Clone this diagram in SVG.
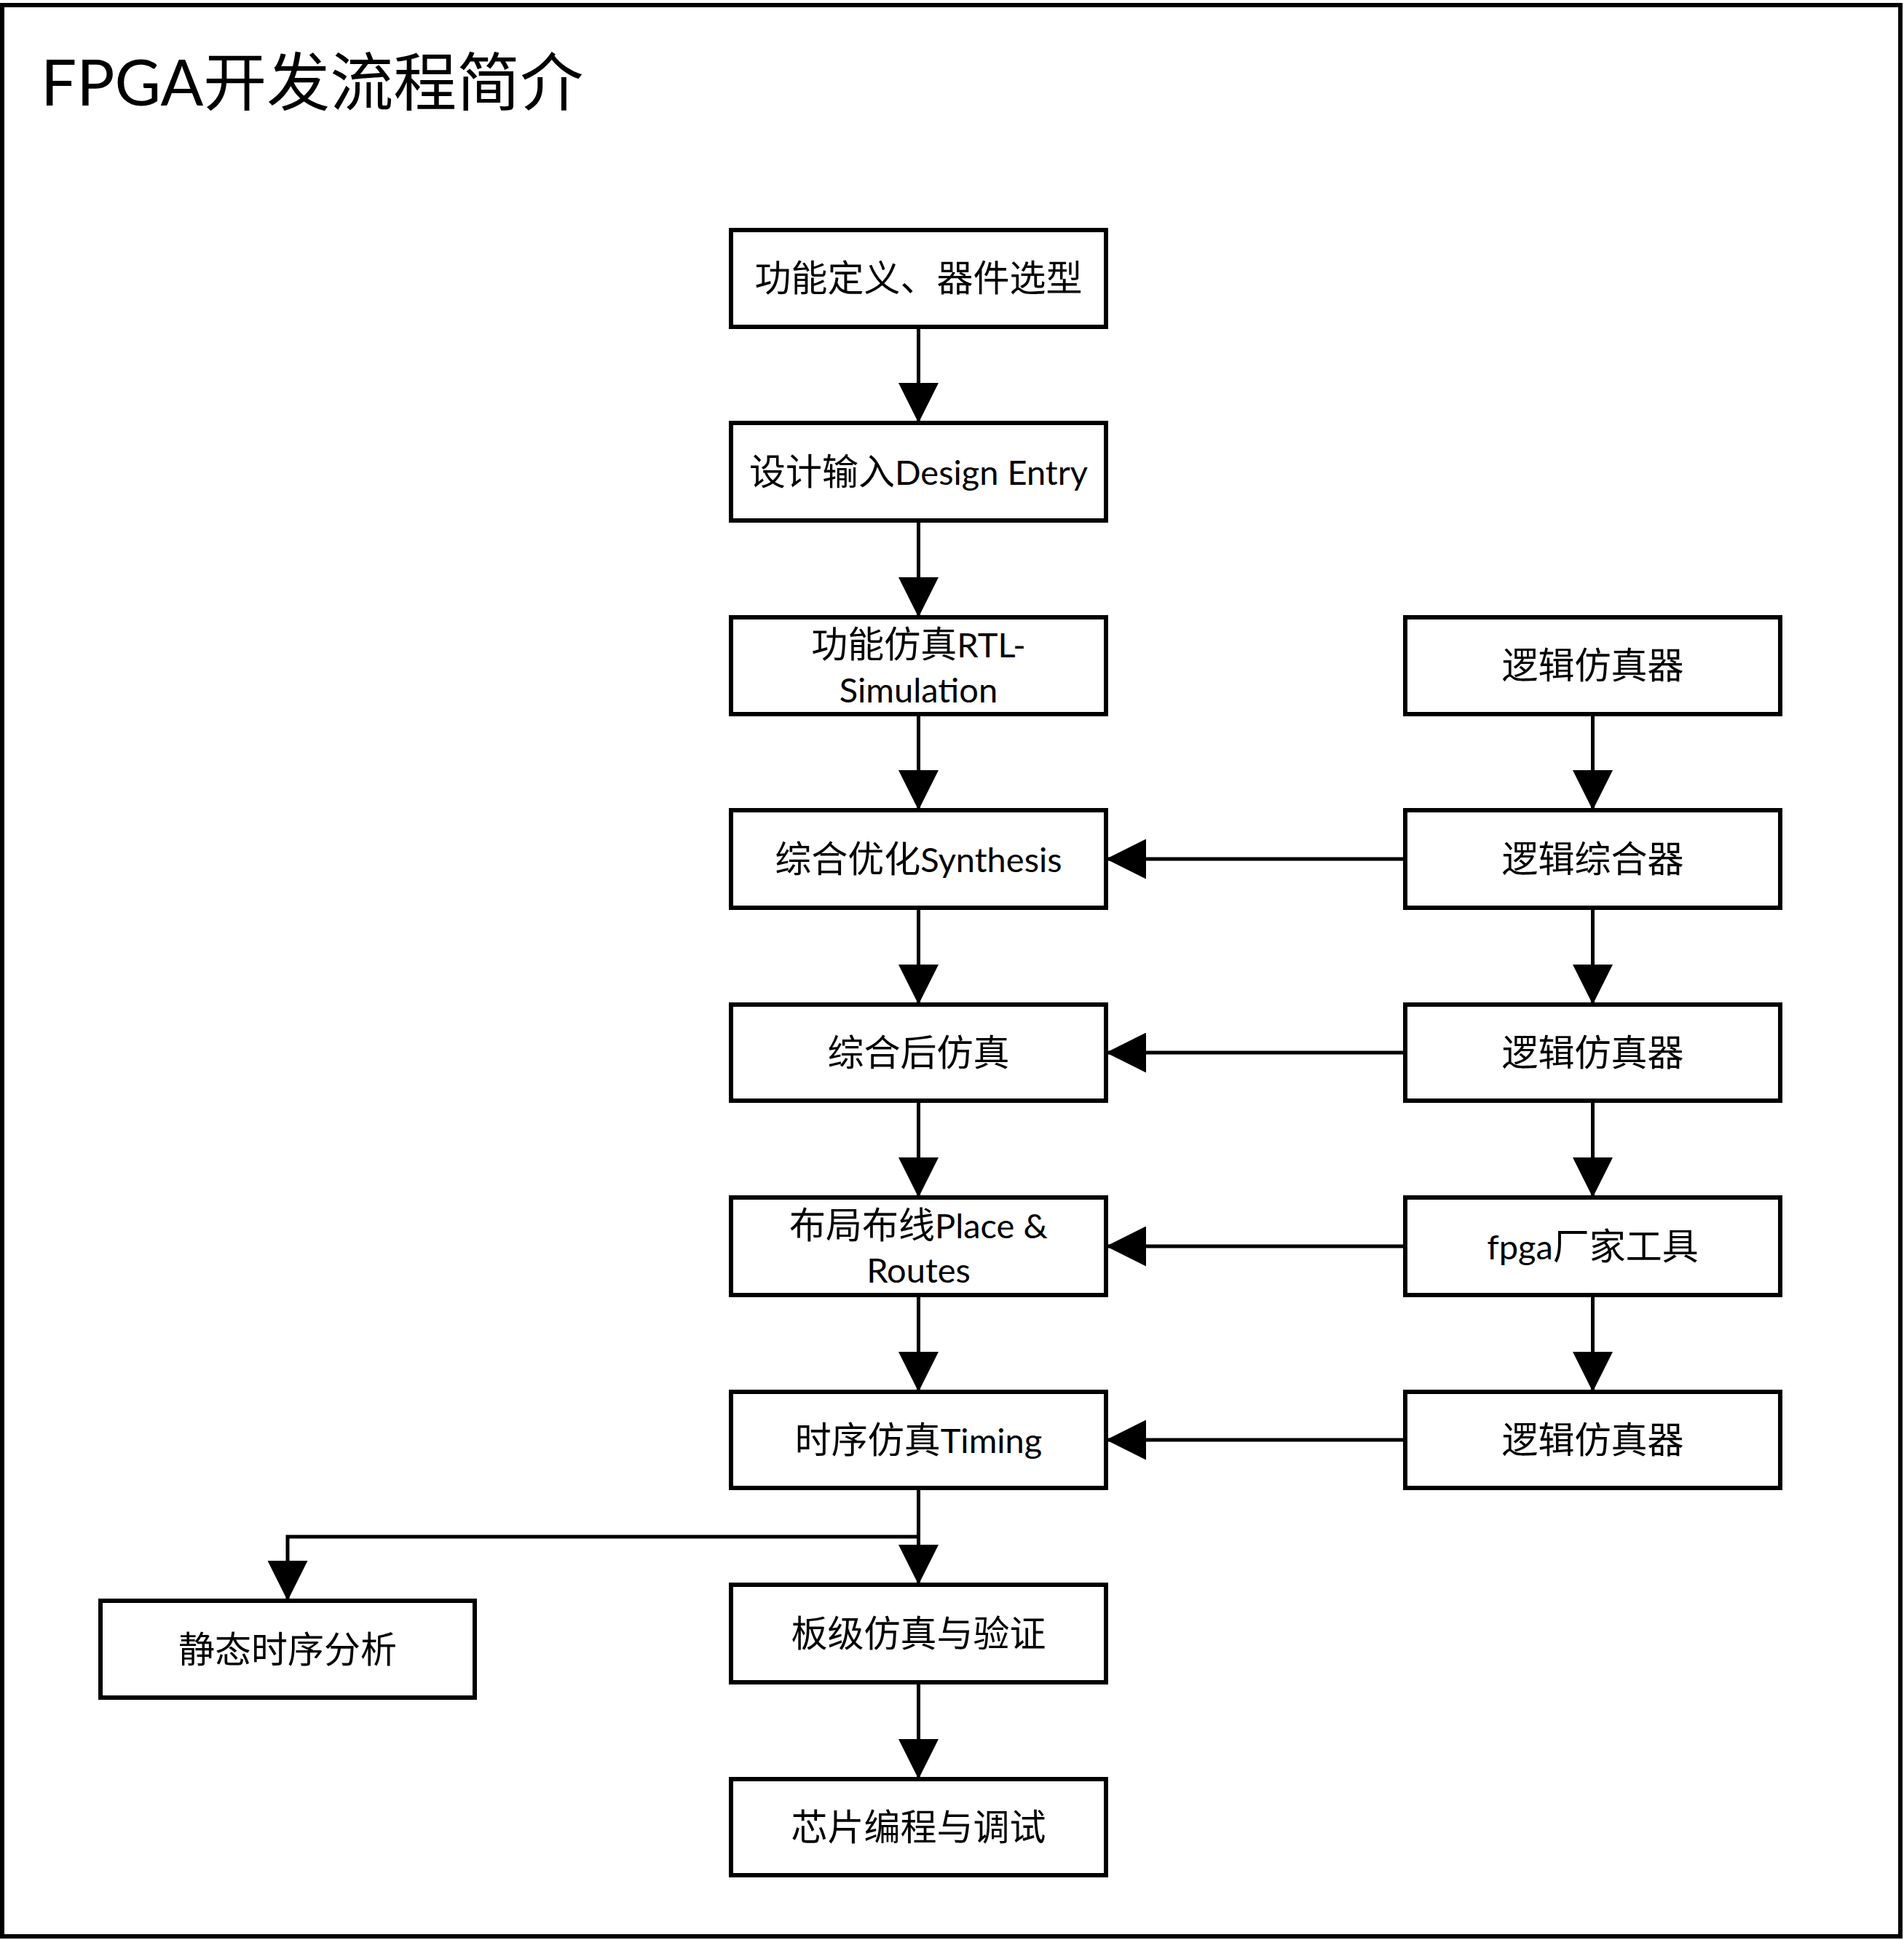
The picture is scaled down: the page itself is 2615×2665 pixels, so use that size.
<svg xmlns="http://www.w3.org/2000/svg" width="2615" height="2665" viewBox="0 0 2615 2665">
  <style>
    .frame { fill: #ffffff; stroke: #000000; stroke-width: 6; }
    .box { fill: #ffffff; stroke: #000000; stroke-width: 6; }
    .lbl { font-family: "Lato", "Noto Sans CJK SC", sans-serif; font-size: 50px; fill: #000000; text-anchor: middle; }
    .lat { font-size: 47px; }
    .title { font-family: "Lato", "Noto Sans CJK SC", sans-serif; font-size: 87px; fill: #000000; }
    .wire { fill: none; stroke: #000000; stroke-width: 5; }
  </style>
  <defs>
    <marker id="arrow" viewBox="0 0 55 55" refX="55" refY="27.5" markerWidth="55" markerHeight="55" markerUnits="userSpaceOnUse" orient="auto">
      <path d="M0,0 L55,27.5 L0,55 Z" fill="#000000"/>
    </marker>
  </defs>

  <rect class="frame" x="3" y="7" width="2607" height="2653"/>
  <text class="title" x="56" y="145">FPGA开发流程简介</text>

  <!-- main flow column -->
  <g id="n1"><rect class="box" x="1004" y="316" width="515" height="133"/><text class="lbl" x="1261.5" y="400">功能定义、器件选型</text></g>
  <g id="n2"><rect class="box" x="1004" y="581" width="515" height="134"/><text class="lbl" x="1261.5" y="666">设计输入<tspan class="lat">Design Entry</tspan></text></g>
  <g id="n3"><rect class="box" x="1004" y="848" width="515" height="133"/><text class="lbl" x="1261.5" y="903">功能仿真<tspan class="lat">RTL-</tspan></text><text class="lbl lat" x="1261.5" y="965">Simulation</text></g>
  <g id="n4"><rect class="box" x="1004" y="1113" width="515" height="134"/><text class="lbl" x="1261.5" y="1198">综合优化<tspan class="lat">Synthesis</tspan></text></g>
  <g id="n5"><rect class="box" x="1004" y="1380" width="515" height="132"/><text class="lbl" x="1261.5" y="1464">综合后仿真</text></g>
  <g id="n6"><rect class="box" x="1004" y="1645" width="515" height="134"/><text class="lbl" x="1261.5" y="1701">布局布线<tspan class="lat">Place &amp;</tspan></text><text class="lbl lat" x="1261.5" y="1762">Routes</text></g>
  <g id="n7"><rect class="box" x="1004" y="1912" width="515" height="132"/><text class="lbl" x="1261.5" y="1996">时序仿真<tspan class="lat">Timing</tspan></text></g>
  <g id="n8"><rect class="box" x="1004" y="2177" width="515" height="134"/><text class="lbl" x="1261.5" y="2262">板级仿真与验证</text></g>
  <g id="n9"><rect class="box" x="1004" y="2444" width="515" height="132"/><text class="lbl" x="1261.5" y="2528">芯片编程与调试</text></g>

  <!-- tool column -->
  <g id="t1"><rect class="box" x="1930" y="848" width="515" height="133"/><text class="lbl" x="2187.5" y="932">逻辑仿真器</text></g>
  <g id="t2"><rect class="box" x="1930" y="1113" width="515" height="134"/><text class="lbl" x="2187.5" y="1198">逻辑综合器</text></g>
  <g id="t3"><rect class="box" x="1930" y="1380" width="515" height="132"/><text class="lbl" x="2187.5" y="1464">逻辑仿真器</text></g>
  <g id="t4"><rect class="box" x="1930" y="1645" width="515" height="134"/><text class="lbl" x="2187.5" y="1730"><tspan class="lat">fpga</tspan>厂家工具</text></g>
  <g id="t5"><rect class="box" x="1930" y="1912" width="515" height="132"/><text class="lbl" x="2187.5" y="1996">逻辑仿真器</text></g>

  <!-- static timing branch -->
  <g id="sta"><rect class="box" x="138" y="2199" width="514" height="133"/><text class="lbl" x="395" y="2284">静态时序分析</text></g>

  <g id="connectors">
    <line class="wire" x1="1261.5" y1="449" x2="1261.5" y2="581" marker-end="url(#arrow)"/>
    <line class="wire" x1="1261.5" y1="715" x2="1261.5" y2="848" marker-end="url(#arrow)"/>
    <line class="wire" x1="1261.5" y1="981" x2="1261.5" y2="1113" marker-end="url(#arrow)"/>
    <line class="wire" x1="1261.5" y1="1247" x2="1261.5" y2="1380" marker-end="url(#arrow)"/>
    <line class="wire" x1="1261.5" y1="1512" x2="1261.5" y2="1645" marker-end="url(#arrow)"/>
    <line class="wire" x1="1261.5" y1="1779" x2="1261.5" y2="1912" marker-end="url(#arrow)"/>
    <line class="wire" x1="1261.5" y1="2044" x2="1261.5" y2="2177" marker-end="url(#arrow)"/>
    <line class="wire" x1="1261.5" y1="2311" x2="1261.5" y2="2444" marker-end="url(#arrow)"/>

    <line class="wire" x1="2187.5" y1="981" x2="2187.5" y2="1113" marker-end="url(#arrow)"/>
    <line class="wire" x1="2187.5" y1="1247" x2="2187.5" y2="1380" marker-end="url(#arrow)"/>
    <line class="wire" x1="2187.5" y1="1512" x2="2187.5" y2="1645" marker-end="url(#arrow)"/>
    <line class="wire" x1="2187.5" y1="1779" x2="2187.5" y2="1912" marker-end="url(#arrow)"/>

    <line class="wire" x1="1930" y1="1180" x2="1519" y2="1180" marker-end="url(#arrow)"/>
    <line class="wire" x1="1930" y1="1446" x2="1519" y2="1446" marker-end="url(#arrow)"/>
    <line class="wire" x1="1930" y1="1712" x2="1519" y2="1712" marker-end="url(#arrow)"/>
    <line class="wire" x1="1930" y1="1978" x2="1519" y2="1978" marker-end="url(#arrow)"/>

    <polyline class="wire" points="1261.5,2111 395,2111 395,2199" marker-end="url(#arrow)"/>
  </g>
</svg>
